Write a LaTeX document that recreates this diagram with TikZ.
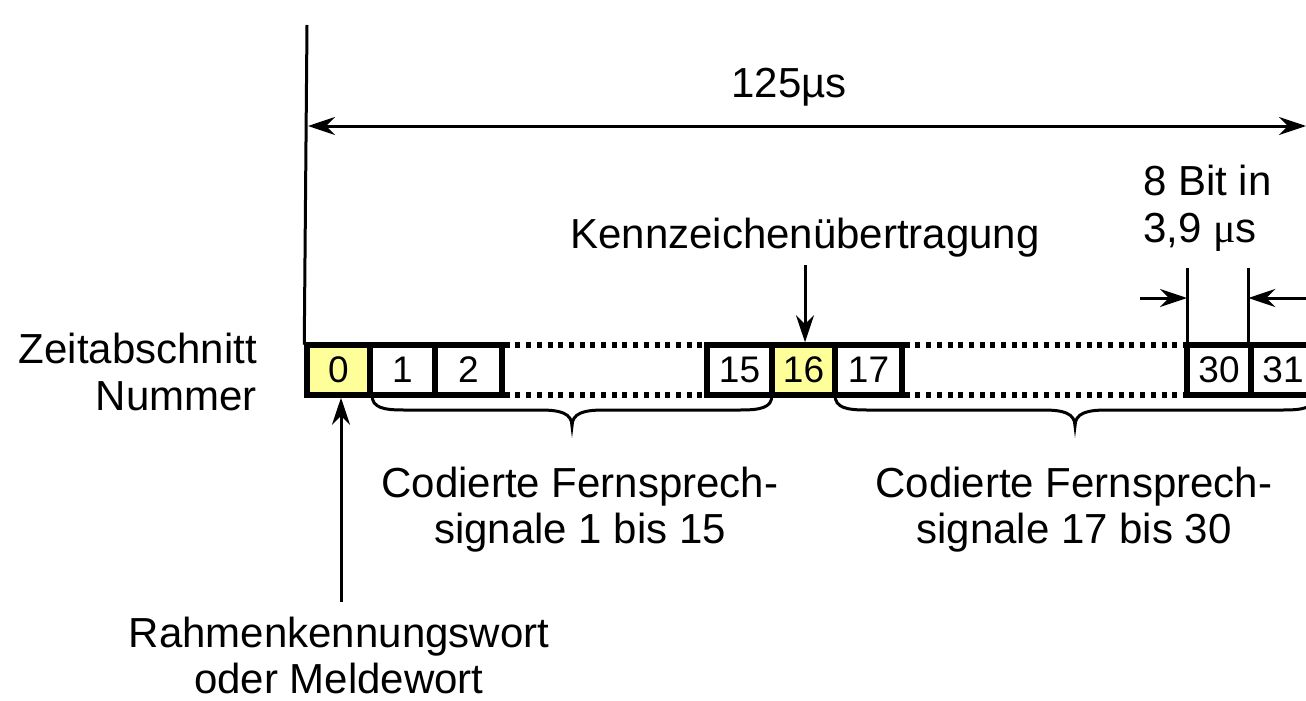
\documentclass[tikz,border=0pt]{standalone}
\usepackage{fontspec}
\setmainfont{Liberation Sans}
\newfontfamily\greekserif{Liberation Serif}
\usetikzlibrary{arrows.meta,calc}
\definecolor{cellyellow}{RGB}{255,255,153}
\newcommand{\mybrace}[3]{%
  \pgfmathsetmacro{\bm}{(#1+#2)/2}%
  \draw[braceline] (#1,#3) .. controls (#1,{#3+13}) and ({#1+12},{#3+15}) .. ({#1+32},{#3+15})
    -- ({\bm-32},{#3+15}) .. controls ({\bm-12},{#3+15}) and (\bm,{#3+18}) .. (\bm,{#3+31})
    .. controls (\bm,{#3+18}) and ({\bm+12},{#3+15}) .. ({\bm+32},{#3+15})
    -- ({#2-32},{#3+15}) .. controls ({#2-12},{#3+15}) and (#2,{#3+13}) .. (#2,#3);}
\begin{document}
\begin{tikzpicture}[x=1pt,y=-1pt,
  lbl/.style={inner sep=0pt, font=\fontsize{42}{47}\selectfont},
  cell/.style={draw, line width=5.5pt, minimum height=50pt, inner sep=0pt, font=\fontsize{37}{42}\selectfont, fill=white},
  yel/.style={fill=cellyellow},
  arr/.style={line width=3pt, -{Stealth[length=27pt,width=18pt,inset=9pt]}},
  dblarr/.style={line width=3pt, {Stealth[length=27pt,width=18pt,inset=9pt]}-{Stealth[length=27pt,width=18pt,inset=9pt]}},
  thinline/.style={line width=3pt},
  braceline/.style={line width=3pt},
  dots/.style={line width=5.5pt, dash pattern=on 5pt off 5.7pt}]
\useasboundingbox (0,0) rectangle (1306,701);
\fill[white] (0,0) rectangle (1306,701);

% cells
\node[cell, yel, minimum width=63pt] (b0) at (338.5,370) {0};
\node[cell, minimum width=65pt] (b1) at (402.5,370) {1};
\node[cell, minimum width=67pt] (b2) at (468.5,370) {2};
\node[cell, minimum width=65pt] (b15) at (739.5,370) {15};
\node[cell, yel, minimum width=63pt] (b16) at (803.5,370) {16};
\node[cell, minimum width=67pt] (b17) at (868.5,370) {17};
\node[cell, minimum width=64pt] (b30) at (1219,370) {30};
\node[cell, minimum width=64pt] (b31) at (1283,370) {31};

% dotted continuation lines
\draw[dots] ([yshift=-2.75pt]b2.north east) -- ([yshift=-2.75pt]b15.north west);
\draw[dots] ([yshift=2.75pt]b2.south east) -- ([yshift=2.75pt]b15.south west);
\draw[dots] ([yshift=-2.75pt]b17.north east) -- ([yshift=-2.75pt]b30.north west);
\draw[dots] ([yshift=2.75pt]b17.south east) -- ([yshift=2.75pt]b30.south west);

% left vertical line and 125 us arrow
\coordinate (vtop) at (307,25);
\draw[thinline] (vtop) -- ([yshift=-2.5pt]b0.north west);
\coordinate (aL) at (308,126);
\coordinate (aR) at (1306,126);
\draw[dblarr] (aL) -- (aR);
\node[lbl, anchor=base] (t125) at (789,97) {125µs};

% Kennzeichenuebertragung
\node[lbl, anchor=base] (tk) at (805,248) {Kennzeichenübertragung};
\coordinate (kt) at (805,265);
\draw[arr] (kt) -- (kt |- b16.north);

% 8 Bit in 3,9 us
\node[lbl, anchor=base west] (t8a) at (1143,195) {8 Bit in};
\node[lbl, anchor=base west] (t8b) at (1143,242) {3,9 {\greekserif μ}s};
\draw[thinline] ([xshift=2.75pt,yshift=-2.5pt]b30.north west) -- ++(0,-77) coordinate (d30);
\draw[thinline] ([yshift=-2.5pt]b31.north west) -- ++(0,-77) coordinate (d31);
\coordinate (dl) at (1140,298);
\coordinate (dr) at (1310,298);
\draw[arr] (dl) -- (dl -| d30);
\draw[arr] (dr) -- (dr -| d31);

% Zeitabschnitt Nummer
\node[lbl, anchor=base east] (tz1) at (257,363) {Zeitabschnitt};
\node[lbl, anchor=base east] (tz2) at (257,410) {Nummer};

% braces
\mybrace{372}{772}{395}
\mybrace{835}{1315}{395}

\node[lbl, anchor=base] (c1a) at (580,497) {Codierte Fernsprech-};
\node[lbl, anchor=base] (c1b) at (580,543) {signale 1 bis 15};
\node[lbl, anchor=base] (c2a) at (1074,497) {Codierte Fernsprech-};
\node[lbl, anchor=base] (c2b) at (1074,543) {signale 17 bis 30};

% Rahmenkennungswort
\coordinate (rb) at (341,602);
\draw[arr] (rb) -- (rb |- b0.south);
\node[lbl, anchor=base] (r1) at (339,647) {Rahmenkennungswort};
\node[lbl, anchor=base] (r2) at (339,693) {oder Meldewort};
\end{tikzpicture}
\end{document}
